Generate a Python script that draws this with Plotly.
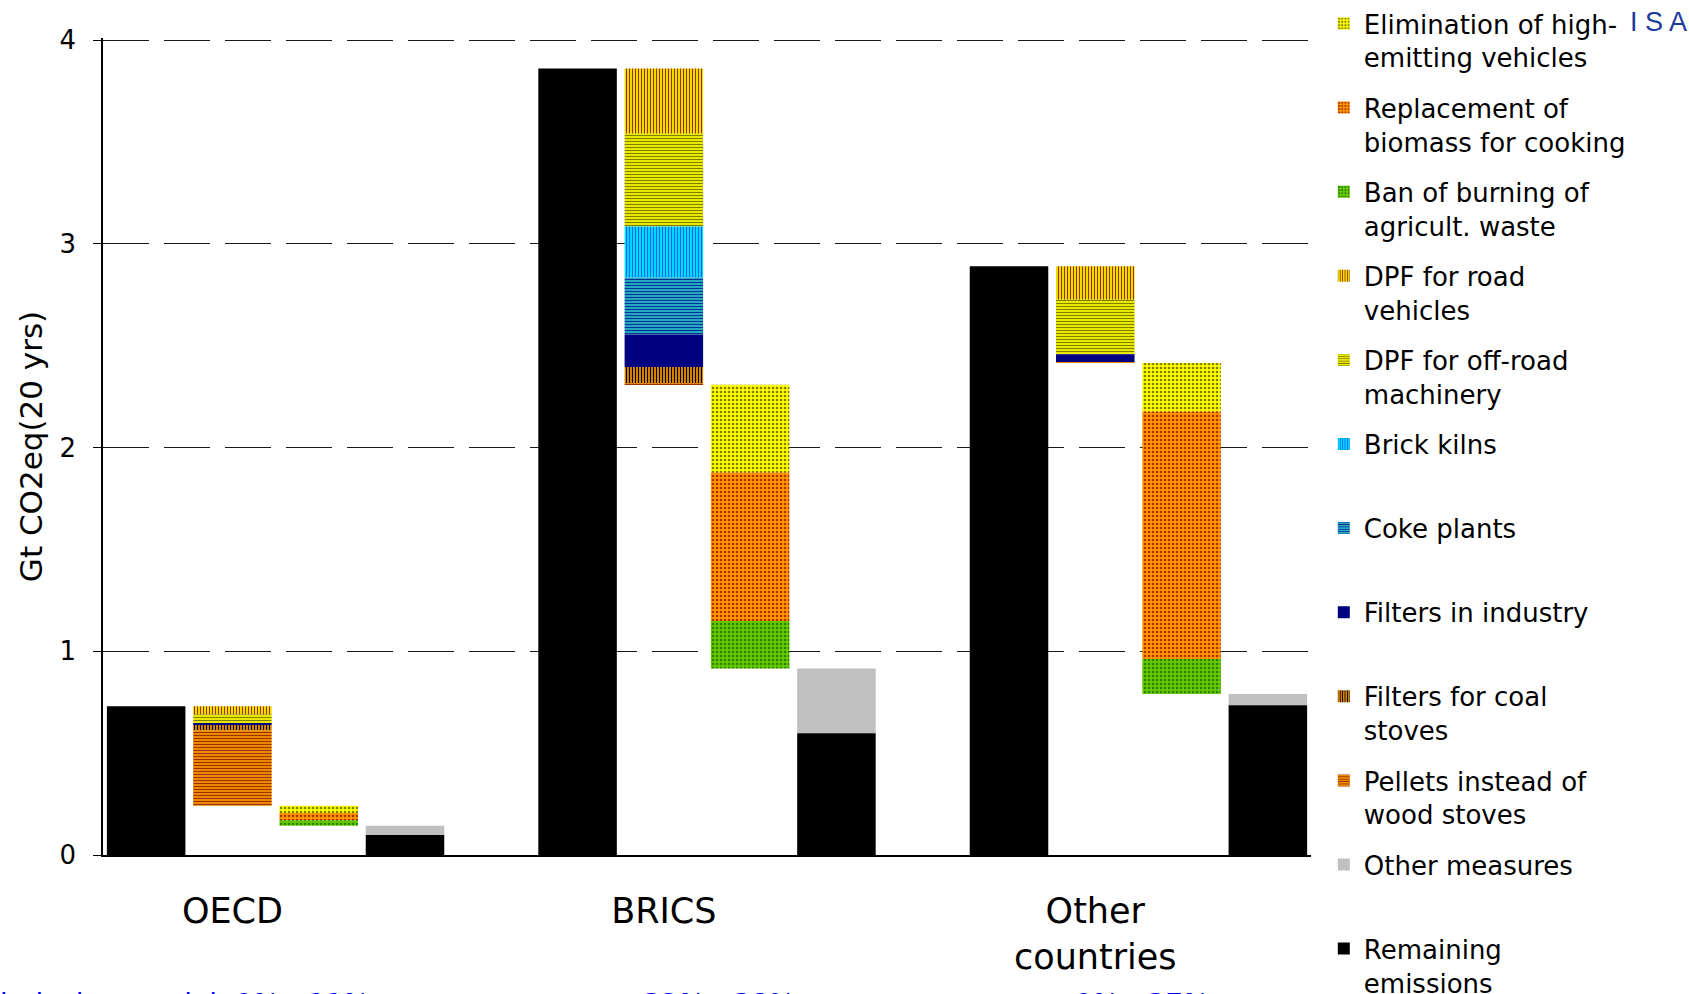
import plotly.graph_objects as go

# Regions and the emissions before any measure (Gt CO2eq, 20-year horizon)
regions = ["OECD", "BRICS", "Other<br>countries"]
baseline = [0.73, 3.86, 2.89]

# Technical measures (second bar of each region), listed top to bottom
dpf_road = [0.041, 0.320, 0.165]
dpf_offroad = [0.041, 0.455, 0.267]
brick_kilns = [0.0, 0.250, 0.0]
coke_plants = [0.0, 0.280, 0.0]
filters_industry = [0.010, 0.160, 0.040]
filters_coal = [0.026, 0.079, 0.0]
pellets = [0.370, 0.008, 0.003]

# Non-technical measures (third bar), listed top to bottom
elimination = [0.036, 0.430, 0.240]
replacement = [0.036, 0.730, 1.213]
ban_burning = [0.026, 0.233, 0.172]

# Other measures (fourth bar, on top of what remains)
other_measures = [0.046, 0.317, 0.055]

# Footnote texts below the chart, partly outside the page
footnotes = ["Technical potential: 9% - 11%", "32% - 38%", "9% - 37%"]

FONT = "DejaVu Sans"
BAR_W = 0.91


def slot(i, k):
    # five slots per region: four bars plus one empty spacer
    return 5 * i + k


styles = {
    "elim": dict(shape=".", bgcolor="#FFFF00", fgcolor="#808000", size=4, solidity=0.35),
    "repl": dict(shape=".", bgcolor="#FF9900", fgcolor="#B33000", size=4, solidity=0.35),
    "ban": dict(shape=".", bgcolor="#66CC00", fgcolor="#2F8000", size=4, solidity=0.35),
    "road": dict(shape="|", bgcolor="#FFFF00", fgcolor="#993300", size=3, solidity=0.45),
    "offroad": dict(shape="-", bgcolor="#FFFF00", fgcolor="#808000", size=3, solidity=0.45),
    "brick": dict(shape="|", bgcolor="#00FFFF", fgcolor="#0066FF", size=3, solidity=0.5),
    "coke": dict(shape="-", bgcolor="#33CCCC", fgcolor="#003399", size=3, solidity=0.5),
    "coal": dict(shape="|", bgcolor="#FF9900", fgcolor="#000000", size=3, solidity=0.45),
    "pellets": dict(shape="-", bgcolor="#FF9900", fgcolor="#993300", size=3, solidity=0.45),
}

n = len(regions)

# Waterfall bookkeeping: each segment hangs below the previous one
tech_steps = [
    ("road", "DPF for road<br>vehicles", dpf_road),
    ("offroad", "DPF for off-road<br>machinery", dpf_offroad),
    ("brick", "Brick kilns<br> ", brick_kilns),
    ("coke", "Coke plants<br> ", coke_plants),
    ("industry", "Filters in industry<br> ", filters_industry),
    ("coal", "Filters for coal<br>stoves", filters_coal),
    ("pellets", "Pellets instead of<br>wood stoves", pellets),
]
nontech_steps = [
    ("elim", "Elimination of high-<br>emitting vehicles", elimination),
    ("repl", "Replacement of<br>biomass for cooking", replacement),
    ("ban", "Ban of burning of<br>agricult. waste", ban_burning),
]

segments = {}
top = list(baseline)
for key, name, vals in tech_steps:
    base = [top[i] - vals[i] for i in range(n)]
    segments[key] = (name, [slot(i, 1) for i in range(n)], vals, base)
    top = base
for key, name, vals in nontech_steps:
    base = [top[i] - vals[i] for i in range(n)]
    segments[key] = (name, [slot(i, 2) for i in range(n)], vals, base)
    top = base
remaining = [top[i] - other_measures[i] for i in range(n)]
segments["other"] = ("Other measures<br> ", [slot(i, 3) for i in range(n)], other_measures, remaining)

legend_order = ["elim", "repl", "ban", "road", "offroad", "brick", "coke",
                "industry", "coal", "pellets", "other"]

fig = go.Figure()
for key in legend_order:
    name, xs, ys, base = segments[key]
    marker = dict(line=dict(width=0))
    if key == "industry":
        marker["color"] = "#000080"
    elif key == "other":
        marker["color"] = "#C0C0C0"
    else:
        st = styles[key]
        marker["color"] = st["bgcolor"]
        marker["pattern"] = dict(shape=st["shape"], bgcolor=st["bgcolor"], fgcolor=st["fgcolor"],
                                 size=st["size"], solidity=st["solidity"], fillmode="replace")
    fig.add_trace(go.Bar(x=xs, y=ys, base=base, name=name, width=BAR_W, marker=marker,
                         legendgroup=key, hoverinfo="skip"))

# Initial emissions and what is left after all measures
rem_x, rem_y = [], []
for i in range(n):
    rem_x += [slot(i, 0), slot(i, 3)]
    rem_y += [baseline[i], remaining[i]]
fig.add_trace(go.Bar(x=rem_x, y=rem_y, base=[0] * len(rem_y), name="Remaining<br>emissions",
                     width=BAR_W, marker=dict(color="#000000", line=dict(width=0)),
                     legendgroup="remaining", hoverinfo="skip"))

# Footnotes, right-aligned, clipped by the bottom edge of the page
foot_x = [0.2227, 0.5745, 0.918]
for txt, xp in zip(footnotes, foot_x):
    fig.add_annotation(text=txt, x=xp, y=-0.160, xref="paper", yref="paper",
                       xanchor="right", yanchor="top", showarrow=False,
                       font=dict(family=FONT, size=28, color="#0000FF"))

# Logo fragment in the top-right corner
fig.add_annotation(text="I S A", x=1.3129, y=1.040, xref="paper", yref="paper",
                   xanchor="right", yanchor="top", showarrow=False,
                   font=dict(family="Liberation Sans Narrow, Liberation Sans", size=27,
                             color="#1C3C9C"))

fig.update_layout(
    width=1689, height=994,
    margin=dict(l=103, r=378, t=38, b=139, autoexpand=False),
    barmode="overlay",
    plot_bgcolor="#FFFFFF", paper_bgcolor="#FFFFFF",
    font=dict(family=FONT, size=26, color="#000000"),
    showlegend=True,
    legend=dict(x=1.0106, y=1.0464, xanchor="left", yanchor="top",
                traceorder="grouped", tracegroupgap=13.5, valign="top",
                font=dict(family=FONT, size=26, color="#000000"),
                bgcolor="rgba(0,0,0,0)", maxheight=3000, itemclick=False),
    xaxis=dict(range=[-0.5, 13.5], tickmode="array",
               tickvals=[slot(i, 1) for i in range(n)], ticktext=regions,
               showgrid=False, zeroline=False, showline=True, linecolor="#000000",
               linewidth=2, ticks="", ticklabelstandoff=24,
               tickfont=dict(family=FONT, size=35, color="#000000"), automargin=False),
    yaxis=dict(range=[0, 4.01], tickvals=[0, 1, 2, 3, 4], showgrid=True,
               gridcolor="#1A1A1A", gridwidth=1, griddash="46px,15px",
               zeroline=False, showline=True, linecolor="#000000", linewidth=1.5,
               ticks="outside", ticklen=8, tickcolor="#000000", ticklabelstandoff=12,
               tickfont=dict(family=FONT, size=26, color="#000000"),
               title=dict(text="Gt CO2eq(20 yrs)", standoff=8,
                          font=dict(family=FONT, size=31, color="#000000")),
               automargin=False),
)

fig.write_html("out.html")
